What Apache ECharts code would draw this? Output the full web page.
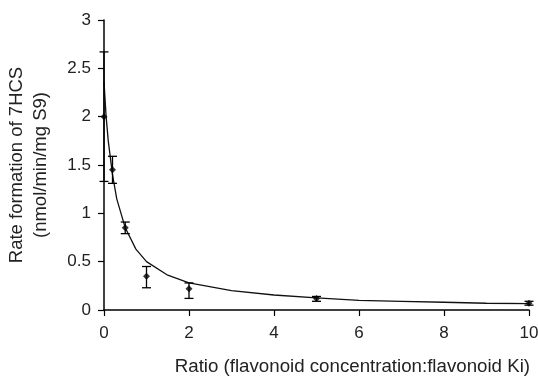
<!DOCTYPE html>
<html>
<head>
<meta charset="utf-8">
<script src="https://cdn.jsdelivr.net/npm/echarts@6/dist/echarts.min.js"></script>
<style>
  html, body { margin: 0; padding: 0; background: #fff; }
  #chart { width: 538px; height: 378px; }
</style>
</head>
<body>
<div id="chart"></div>
<script>
// Measured rate of 7HCS formation vs. flavonoid ratio
const ratios   = [0, 0.2, 0.5, 1, 2, 5, 10];
const rates    = [2.0, 1.45, 0.85, 0.35, 0.22, 0.12, 0.07];
const errLow   = [1.33, 1.31, 0.79, 0.23, 0.12, 0.09, 0.05];
const errHigh  = [2.67, 1.59, 0.91, 0.45, 0.28, 0.14, 0.09];

// Fitted inhibition curve
const fitX = [0, 0.05, 0.1, 0.2, 0.3, 0.5, 0.75, 1, 1.5, 2, 3, 4, 5, 6, 7, 8, 9, 10];
const fitY = [2.36, 2.0, 1.75, 1.4, 1.15, 0.85, 0.63, 0.5, 0.36, 0.28, 0.2, 0.155, 0.125, 0.1, 0.09, 0.08, 0.07, 0.065];

const xTicks = [0, 2, 4, 6, 8, 10];
const yTicks = [0, 0.5, 1, 1.5, 2, 2.5, 3];

const FONT = 'Liberation Sans, Arial, sans-serif';
const chart = echarts.init(document.getElementById('chart'), null, { renderer: 'canvas' });

const points = ratios.map((x, i) => [x, rates[i]]);
const bars = ratios.map((x, i) => [x, errLow[i], errHigh[i]]);
const curve = fitX.map((x, i) => [x, fitY[i]]);

chart.setOption({
  animation: false,
  backgroundColor: '#ffffff',
  grid: { left: 104, right: 9, top: 20, bottom: 68, outerBoundsMode: 'none', containLabel: false },
  xAxis: {
    type: 'value',
    min: xTicks[0],
    max: xTicks[xTicks.length - 1],
    interval: 2,
    axisLine: { onZero: false, lineStyle: { color: '#000', width: 1.5 } },
    axisTick: { show: true, length: 6, lineStyle: { color: '#000', width: 1.2 } },
    axisLabel: { color: '#222', fontSize: 17, fontFamily: FONT, margin: 15 },
    splitLine: { show: false }
  },
  yAxis: {
    type: 'value',
    min: yTicks[0],
    max: yTicks[yTicks.length - 1],
    interval: 0.5,
    name: 'Rate formation of 7HCS\n(nmol/min/mg S9)',
    nameLocation: 'middle',
    nameGap: 51,
    nameRotate: 90,
    nameTextStyle: { color: '#222', fontSize: 18.5, fontFamily: FONT, lineHeight: 24 },
    axisLine: { show: true, lineStyle: { color: '#000', width: 1.5 } },
    axisTick: { show: true, length: 6, lineStyle: { color: '#000', width: 1.2 } },
    axisLabel: { color: '#222', fontSize: 17, fontFamily: FONT, margin: 13 },
    splitLine: { show: false }
  },
  graphic: [{
    type: 'text',
    right: 8,
    top: 357,
    style: {
      text: 'Ratio (flavonoid concentration:flavonoid Ki)',
      fill: '#222',
      font: '18.7px ' + FONT
    }
  }],
  series: [
    {
      type: 'line',
      data: curve,
      showSymbol: false,
      smooth: false,
      lineStyle: { color: '#111', width: 1.3 },
      z: 2
    },
    {
      type: 'custom',
      clip: false,
      data: bars,
      renderItem: function (params, api) {
        const x = api.value(0);
        const lo = api.coord([x, api.value(1)]);
        const hi = api.coord([x, api.value(2)]);
        const w = 4.5;
        const st = { stroke: '#000', lineWidth: 1.3 };
        return {
          type: 'group',
          children: [
            { type: 'line', shape: { x1: lo[0], y1: lo[1], x2: hi[0], y2: hi[1] }, style: st },
            { type: 'line', shape: { x1: lo[0] - w, y1: lo[1], x2: lo[0] + w, y2: lo[1] }, style: st },
            { type: 'line', shape: { x1: hi[0] - w, y1: hi[1], x2: hi[0] + w, y2: hi[1] }, style: st }
          ]
        };
      },
      z: 3
    },
    {
      type: 'scatter',
      data: points,
      symbol: 'diamond',
      symbolSize: 7,
      itemStyle: { color: '#000' },
      clip: false,
      z: 4
    }
  ]
});
</script>
</body>
</html>
